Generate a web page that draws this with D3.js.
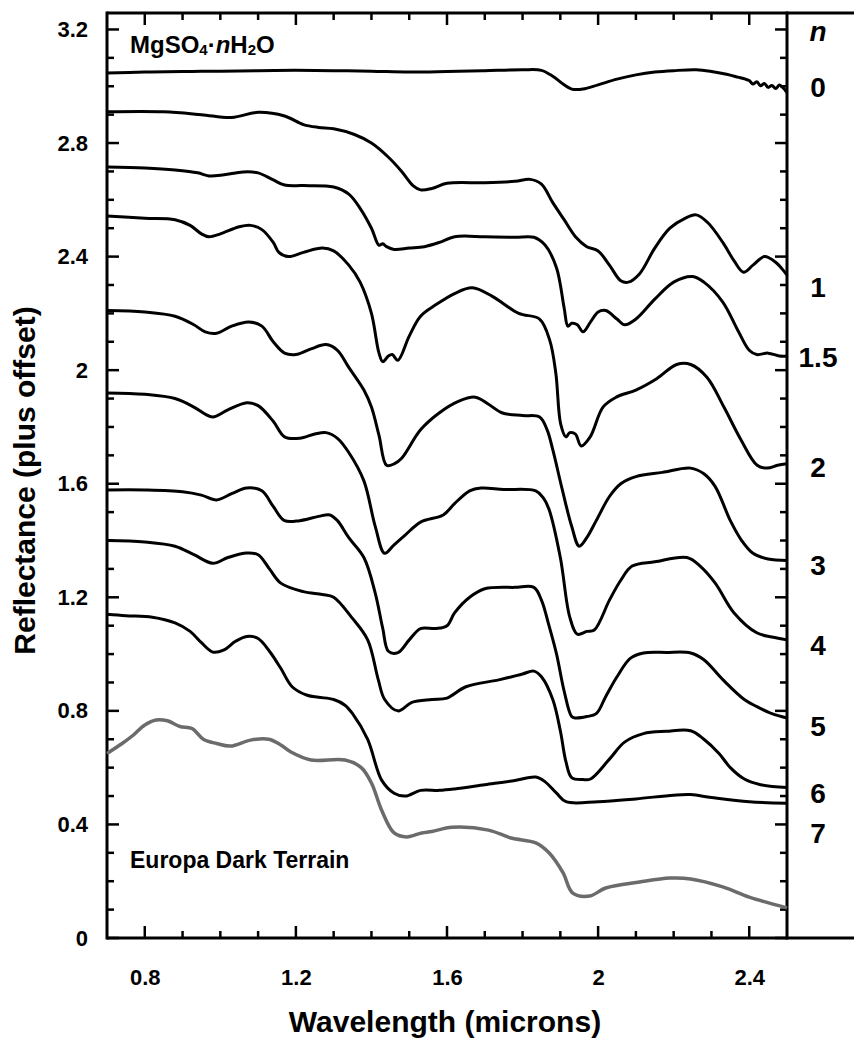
<!DOCTYPE html>
<html>
<head>
<meta charset="utf-8">
<script src="https://cdn.jsdelivr.net/npm/d3@7"></script>
<style>
  html, body { margin: 0; padding: 0; background: #fff; }
  svg { display: block; font-family: "Liberation Sans", Arial, Helvetica, sans-serif; }
</style>
</head>
<body>
<svg id="chart" width="854" height="1044"></svg>
<script>
// Hydration state labels shown in the right-hand column, and the
// reflectance level each label sits at.
const nLabels = ["0", "1", "1.5", "2", "3", "4", "5", "6", "7"];
const nLabelLevel = [2.997, 2.293, 2.046, 1.659, 1.314, 1.032, 0.747, 0.511, 0.370];
const nHeaderLevel = 3.183;

// Spectra: [wavelength (microns), reflectance + offset]
const specN0 = [[0.70,3.047],[0.80,3.050],[0.90,3.052],[1.00,3.053],[1.10,3.055],[1.20,3.056],[1.30,3.055],[1.40,3.053],[1.50,3.050],[1.60,3.052],[1.70,3.055],[1.80,3.058],[1.85,3.056],[1.88,3.035],[1.91,3.005],[1.93,2.990],[1.96,2.990],[2.00,3.005],[2.05,3.025],[2.10,3.040],[2.15,3.050],[2.20,3.055],[2.26,3.058],[2.30,3.052],[2.34,3.042],[2.37,3.032],[2.39,3.025],[2.40,3.020],[2.41,3.008],[2.42,3.016],[2.43,3.002],[2.44,3.010],[2.45,2.996],[2.46,3.003],[2.47,2.992],[2.48,3.004],[2.49,2.994],[2.50,2.978]];

const specN1 = [[0.70,2.910],[0.85,2.910],[0.95,2.900],[1.03,2.890],[1.10,2.908],[1.17,2.895],[1.22,2.865],[1.26,2.855],[1.30,2.850],[1.355,2.830],[1.40,2.800],[1.445,2.750],[1.48,2.700],[1.51,2.650],[1.53,2.635],[1.56,2.640],[1.60,2.658],[1.70,2.660],[1.78,2.665],[1.82,2.672],[1.85,2.655],[1.88,2.590],[1.91,2.530],[1.94,2.470],[1.97,2.435],[2.00,2.420],[2.03,2.370],[2.06,2.315],[2.08,2.310],[2.11,2.340],[2.15,2.430],[2.19,2.500],[2.23,2.535],[2.26,2.547],[2.29,2.520],[2.33,2.450],[2.36,2.385],[2.385,2.345],[2.41,2.370],[2.44,2.400],[2.47,2.380],[2.50,2.335]];

const specN15 = [[0.70,2.716],[0.80,2.712],[0.88,2.705],[0.94,2.695],[0.97,2.684],[1.01,2.688],[1.06,2.698],[1.10,2.695],[1.14,2.670],[1.17,2.652],[1.22,2.650],[1.30,2.645],[1.34,2.620],[1.37,2.570],[1.40,2.500],[1.42,2.440],[1.43,2.445],[1.44,2.435],[1.46,2.425],[1.50,2.430],[1.54,2.435],[1.58,2.450],[1.62,2.470],[1.70,2.470],[1.78,2.468],[1.83,2.468],[1.86,2.440],[1.89,2.360],[1.91,2.220],[1.92,2.155],[1.93,2.165],[1.945,2.160],[1.96,2.135],[1.98,2.170],[2.00,2.205],[2.02,2.210],[2.05,2.180],[2.07,2.160],[2.10,2.180],[2.15,2.250],[2.20,2.310],[2.25,2.330],[2.28,2.310],[2.33,2.240],[2.37,2.140],[2.40,2.070],[2.42,2.055],[2.45,2.060],[2.48,2.050],[2.50,2.050]];

const specN2 = [[0.70,2.543],[0.80,2.535],[0.88,2.530],[0.92,2.510],[0.95,2.480],[0.97,2.470],[1.00,2.480],[1.05,2.505],[1.08,2.510],[1.11,2.495],[1.14,2.450],[1.155,2.415],[1.18,2.400],[1.22,2.415],[1.27,2.430],[1.30,2.420],[1.34,2.370],[1.37,2.310],[1.40,2.200],[1.42,2.060],[1.43,2.030],[1.445,2.050],[1.455,2.055],[1.47,2.035],[1.50,2.120],[1.53,2.190],[1.57,2.230],[1.62,2.270],[1.667,2.290],[1.72,2.260],[1.79,2.200],[1.845,2.180],[1.872,2.105],[1.888,1.990],[1.901,1.810],[1.915,1.765],[1.925,1.780],[1.94,1.775],[1.955,1.733],[1.979,1.765],[2.013,1.870],[2.048,1.905],[2.10,1.930],[2.155,1.970],[2.208,2.020],[2.245,2.020],[2.288,1.975],[2.333,1.870],[2.378,1.755],[2.421,1.665],[2.448,1.655],[2.475,1.665],[2.50,1.670]];

const specN3 = [[0.70,2.210],[0.80,2.205],[0.88,2.190],[0.93,2.160],[0.96,2.135],[0.99,2.130],[1.03,2.155],[1.075,2.170],[1.11,2.155],[1.14,2.100],[1.17,2.060],[1.20,2.055],[1.24,2.075],[1.28,2.090],[1.31,2.070],[1.34,2.010],[1.38,1.930],[1.40,1.870],[1.42,1.770],[1.44,1.665],[1.46,1.670],[1.48,1.690],[1.53,1.790],[1.58,1.850],[1.63,1.890],[1.675,1.905],[1.71,1.880],[1.745,1.850],[1.80,1.840],[1.845,1.835],[1.865,1.790],[1.88,1.720],[1.905,1.580],[1.93,1.450],[1.95,1.380],[1.97,1.410],[1.995,1.470],[2.03,1.555],[2.06,1.600],[2.10,1.625],[2.17,1.640],[2.245,1.655],[2.28,1.635],[2.31,1.590],[2.35,1.470],[2.38,1.400],[2.41,1.355],[2.45,1.335],[2.50,1.330]];

const specN4 = [[0.70,1.920],[0.80,1.915],[0.88,1.900],[0.93,1.870],[0.96,1.845],[0.98,1.835],[1.02,1.860],[1.07,1.885],[1.10,1.875],[1.14,1.820],[1.17,1.765],[1.21,1.760],[1.25,1.775],[1.28,1.780],[1.31,1.760],[1.34,1.710],[1.38,1.610],[1.41,1.450],[1.435,1.355],[1.46,1.385],[1.49,1.420],[1.53,1.465],[1.59,1.490],[1.62,1.530],[1.66,1.575],[1.69,1.585],[1.75,1.580],[1.835,1.575],[1.855,1.550],[1.87,1.510],[1.90,1.340],[1.925,1.130],[1.945,1.070],[1.97,1.080],[1.99,1.085],[2.03,1.190],[2.06,1.260],[2.09,1.310],[2.15,1.325],[2.235,1.340],[2.27,1.310],[2.31,1.250],[2.36,1.145],[2.42,1.075],[2.46,1.060],[2.50,1.050]];

const specN5 = [[0.70,1.578],[0.80,1.578],[0.90,1.572],[0.95,1.560],[0.99,1.543],[1.03,1.565],[1.07,1.585],[1.11,1.575],[1.14,1.520],[1.17,1.470],[1.21,1.470],[1.26,1.485],[1.29,1.490],[1.31,1.470],[1.34,1.410],[1.38,1.340],[1.41,1.215],[1.43,1.090],[1.445,1.010],[1.47,1.005],[1.50,1.050],[1.53,1.090],[1.57,1.090],[1.60,1.100],[1.62,1.145],[1.66,1.200],[1.70,1.230],[1.78,1.235],[1.83,1.235],[1.85,1.190],[1.87,1.100],[1.89,1.000],[1.91,0.870],[1.93,0.780],[1.94,0.775],[1.97,0.780],[1.995,0.790],[2.02,0.850],[2.05,0.920],[2.085,0.985],[2.12,1.004],[2.18,1.006],[2.245,1.004],[2.28,0.980],[2.33,0.910],[2.387,0.840],[2.42,0.815],[2.46,0.790],[2.50,0.775]];

const specN6 = [[0.70,1.400],[0.80,1.395],[0.88,1.380],[0.93,1.350],[0.98,1.320],[1.02,1.340],[1.07,1.356],[1.10,1.350],[1.13,1.300],[1.16,1.250],[1.22,1.220],[1.27,1.210],[1.30,1.200],[1.347,1.130],[1.39,1.050],[1.418,0.910],[1.435,0.840],[1.47,0.800],[1.507,0.830],[1.56,0.840],[1.60,0.845],[1.65,0.885],[1.74,0.910],[1.80,0.930],[1.83,0.940],[1.85,0.920],[1.88,0.840],[1.90,0.730],[1.915,0.620],[1.93,0.565],[1.96,0.558],[1.98,0.560],[2.03,0.630],[2.07,0.690],[2.12,0.720],[2.18,0.728],[2.245,0.730],[2.28,0.700],[2.32,0.650],[2.35,0.600],[2.387,0.560],[2.43,0.540],[2.50,0.530]];

const specN7 = [[0.70,1.140],[0.75,1.135],[0.82,1.130],[0.88,1.110],[0.92,1.080],[0.95,1.040],[0.98,1.007],[1.01,1.015],[1.04,1.045],[1.07,1.062],[1.10,1.055],[1.13,1.010],[1.16,0.950],[1.19,0.885],[1.23,0.855],[1.26,0.848],[1.30,0.840],[1.33,0.820],[1.35,0.790],[1.39,0.700],[1.427,0.556],[1.46,0.510],[1.49,0.500],[1.53,0.520],[1.58,0.520],[1.62,0.525],[1.70,0.540],[1.78,0.555],[1.835,0.567],[1.86,0.550],[1.89,0.510],[1.915,0.480],[2.00,0.480],[2.10,0.490],[2.20,0.503],[2.245,0.505],[2.30,0.495],[2.40,0.480],[2.50,0.475]];

const specEuropa = [[0.70,0.650],[0.74,0.685],[0.77,0.715],[0.80,0.750],[0.83,0.768],[0.86,0.765],[0.893,0.745],[0.925,0.738],[0.955,0.700],[0.99,0.685],[1.027,0.676],[1.08,0.697],[1.128,0.700],[1.16,0.680],[1.187,0.655],[1.24,0.627],[1.33,0.627],[1.373,0.600],[1.40,0.546],[1.427,0.450],[1.46,0.370],[1.493,0.356],[1.533,0.370],[1.56,0.375],[1.613,0.390],[1.71,0.380],[1.77,0.352],[1.835,0.335],[1.87,0.300],[1.907,0.230],[1.933,0.158],[1.978,0.148],[2.02,0.176],[2.11,0.197],[2.19,0.211],[2.245,0.208],[2.33,0.180],[2.40,0.144],[2.50,0.106]];

const hydrateSpectra = [specN0, specN1, specN15, specN2, specN3, specN4, specN5, specN6, specN7];

// Axis ticks
const xMajor = [0.8, 1.2, 1.6, 2, 2.4];
const xMinor = [0.9, 1.0, 1.1, 1.3, 1.4, 1.5, 1.7, 1.8, 1.9, 2.1, 2.2, 2.3];
const yMajor = [0, 0.4, 0.8, 1.2, 1.6, 2, 2.4, 2.8, 3.2];
const yMinor = [0.1, 0.2, 0.3, 0.5, 0.6, 0.7, 0.9, 1.0, 1.1, 1.3, 1.4, 1.5, 1.7, 1.8, 1.9, 2.1, 2.2, 2.3, 2.5, 2.6, 2.7, 2.9, 3.0, 3.1];

const svg = d3.select("#chart");
const W = 854;
const plotLeft = 107, plotRight = 787, plotTop = 13, plotBottom = 938;

const x = d3.scaleLinear().domain([0.7, 2.5]).range([plotLeft, plotRight]);
const y = d3.scaleLinear().domain([0, 3.258]).range([plotBottom, plotTop]);

const fmt = d => String(+d.toFixed(1));
const majorLen = 12, minorLen = 7;

// tick labels come from d3 axes; the inward tick marks are drawn below
function labelAxis(g) {
    g.select(".domain").remove();
    g.selectAll(".tick line").remove();
    g.selectAll(".tick text")
        .attr("fill", "#000")
        .style("font-size", "22px")
        .style("font-weight", "bold");
}

svg.append("g").attr("transform", "translate(" + plotLeft + ",0)")
    .call(d3.axisLeft(y).tickValues(yMajor).tickSize(0).tickPadding(19).tickFormat(fmt))
    .call(labelAxis);

svg.append("g").attr("transform", "translate(0," + plotBottom + ")")
    .call(d3.axisBottom(x).tickValues(xMajor).tickSize(0).tickPadding(31).tickFormat(fmt))
    .call(labelAxis);

// inward tick marks on all four sides
const ticks = svg.append("g").attr("stroke", "#000").attr("stroke-width", 2.5);

[[yMajor, majorLen], [yMinor, minorLen]].forEach(([vals, len]) => {
    ticks.append("g").selectAll("line").data(vals).join("line")
        .attr("x1", plotLeft).attr("x2", plotLeft + len)
        .attr("y1", d => y(d)).attr("y2", d => y(d));
    ticks.append("g").selectAll("line").data(vals).join("line")
        .attr("x1", plotRight).attr("x2", plotRight - len)
        .attr("y1", d => y(d)).attr("y2", d => y(d));
});

[[xMajor, majorLen], [xMinor, minorLen]].forEach(([vals, len]) => {
    ticks.append("g").selectAll("line").data(vals).join("line")
        .attr("x1", d => x(d)).attr("x2", d => x(d))
        .attr("y1", plotBottom).attr("y2", plotBottom - len);
    ticks.append("g").selectAll("line").data(vals).join("line")
        .attr("x1", d => x(d)).attr("x2", d => x(d))
        .attr("y1", plotTop).attr("y2", plotTop + len);
});

// frame: plot box plus the open label column on the right
const frame = svg.append("g").attr("stroke", "#000").attr("stroke-width", 3).attr("fill", "none");
frame.append("line").attr("x1", plotLeft).attr("x2", W).attr("y1", plotTop).attr("y2", plotTop);
frame.append("line").attr("x1", plotLeft).attr("x2", W).attr("y1", plotBottom).attr("y2", plotBottom);
frame.append("line").attr("x1", plotLeft).attr("x2", plotLeft).attr("y1", plotTop - 1.5).attr("y2", plotBottom + 1.5);
frame.append("line").attr("x1", plotRight).attr("x2", plotRight).attr("y1", plotTop - 1.5).attr("y2", plotBottom + 1.5);

// spectra
const line = d3.line()
    .x(d => x(d[0]))
    .y(d => y(d[1]))
    .curve(d3.curveCatmullRom.alpha(0.5));

svg.append("g").selectAll("path.hydrate")
    .data(hydrateSpectra)
    .join("path")
    .attr("class", "hydrate")
    .attr("d", line)
    .attr("fill", "none")
    .attr("stroke", "#000")
    .attr("stroke-width", 3)
    .attr("stroke-linejoin", "round");

svg.append("path")
    .datum(specEuropa)
    .attr("d", line)
    .attr("fill", "none")
    .attr("stroke", "#6b6b6b")
    .attr("stroke-width", 3.5)
    .attr("stroke-linejoin", "round");

// right-hand n column
const labelX = 818;
svg.append("text")
    .attr("x", labelX).attr("y", y(nHeaderLevel)).attr("dy", "0.25em")
    .attr("text-anchor", "middle")
    .style("font-size", "28px").style("font-weight", "bold").style("font-style", "italic")
    .text("n");

svg.append("g").selectAll("text")
    .data(nLabels)
    .join("text")
    .attr("x", labelX)
    .attr("y", (d, i) => y(nLabelLevel[i]))
    .attr("dy", "0.36em")
    .attr("text-anchor", "middle")
    .style("font-size", "28px")
    .style("font-weight", "bold")
    .text(d => d);

// in-plot annotations
const title = svg.append("text")
    .attr("x", 130).attr("y", 53)
    .style("font-size", "24px").style("font-weight", "bold");
title.append("tspan").text("MgSO");
title.append("tspan").attr("dy", 2).style("font-size", "15px").text("4");
title.append("tspan").attr("dy", -2).text("\u00b7");
title.append("tspan").style("font-style", "italic").text("n");
title.append("tspan").text("H");
title.append("tspan").attr("dy", 2).style("font-size", "15px").text("2");
title.append("tspan").attr("dy", -2).text("O");

svg.append("text")
    .attr("x", 130).attr("y", 868)
    .style("font-size", "23px").style("font-weight", "bold")
    .text("Europa Dark Terrain");

// axis titles
svg.append("text")
    .attr("x", (plotLeft + plotRight) / 2 - 2).attr("y", 1032)
    .attr("text-anchor", "middle")
    .style("font-size", "30px").style("font-weight", "bold")
    .text("Wavelength (microns)");

svg.append("text")
    .attr("transform", "translate(35," + ((plotTop + plotBottom) / 2 + 5) + ") rotate(-90)")
    .attr("text-anchor", "middle")
    .style("font-size", "30px").style("font-weight", "bold")
    .text("Reflectance (plus offset)");
</script>
</body>
</html>
